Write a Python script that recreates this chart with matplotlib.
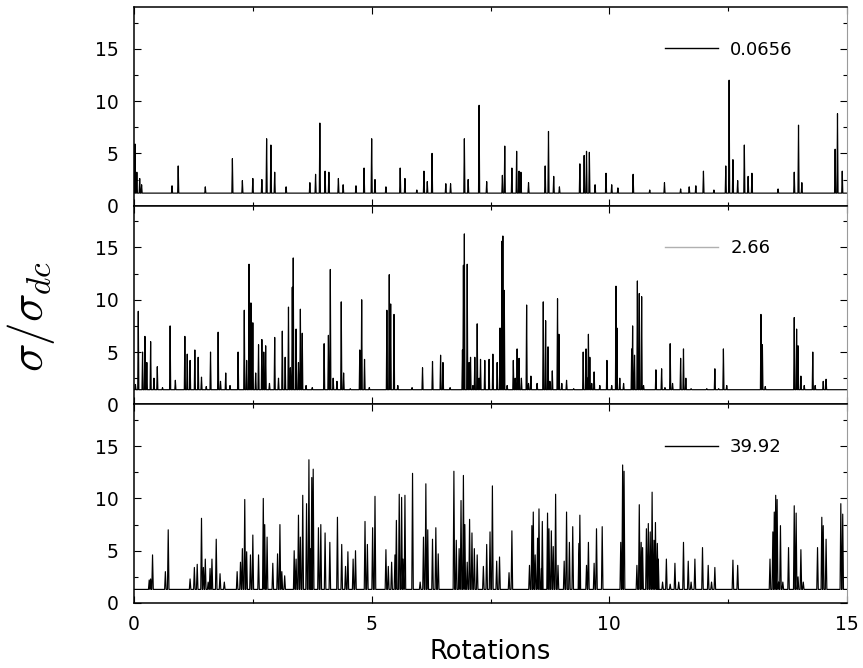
import matplotlib
matplotlib.use("Agg")
import matplotlib.pyplot as plt
from matplotlib.lines import Line2D
from matplotlib.ticker import MultipleLocator
import numpy as np

# ---------------- data ----------------
labels = ["0.0656", "2.66", "39.92"]
baselines = [1.2, 1.4, 1.3]

top_x = [0.02, 0.06, 0.12, 0.16, 0.80, 0.93, 1.50, 2.07, 2.28, 2.50,
         2.69, 2.79, 2.88, 2.96, 3.20, 3.70, 3.82, 3.91, 4.02, 4.10,
         4.30, 4.40, 4.67, 4.84, 5.00, 5.07, 5.30, 5.60, 5.70, 5.95,
         6.10, 6.17, 6.27, 6.56, 6.66, 6.95, 7.03, 7.26, 7.42, 7.75,
         7.80, 7.95, 8.05, 8.10, 8.14, 8.30, 8.65, 8.72, 8.83, 8.95,
         9.38, 9.47, 9.52, 9.58, 9.70, 9.93, 10.05, 10.18, 10.50, 10.85,
         11.16, 11.50, 11.68, 11.82, 11.98, 12.20, 12.45, 12.52, 12.60, 12.70,
         12.84, 12.92, 13.00, 13.55, 13.89, 13.98, 14.05, 14.75, 14.80, 14.90]
top_y = [5.9, 3.2, 2.6, 2.0, 1.9, 3.8, 1.8, 4.5, 2.4, 2.6,
         2.5, 6.4, 5.8, 3.2, 1.8, 2.2, 3.0, 7.9, 3.3, 3.2,
         2.6, 2.0, 1.9, 3.6, 6.4, 2.5, 1.8, 3.6, 2.6, 1.5,
         3.3, 2.3, 5.0, 2.1, 2.1, 6.4, 2.5, 9.6, 2.3, 2.9,
         5.7, 3.6, 5.2, 3.3, 3.2, 2.2, 3.8, 7.1, 2.8, 1.8,
         4.0, 4.8, 5.2, 5.1, 2.0, 3.1, 2.0, 1.7, 3.0, 1.5,
         2.2, 1.6, 1.8, 1.9, 3.3, 1.5, 3.8, 12.0, 4.4, 2.4,
         5.8, 2.8, 3.1, 1.6, 3.2, 7.7, 2.2, 5.4, 8.8, 3.3]

mid_x = [0.03, 0.09, 0.18, 0.23, 0.27, 0.35, 0.42, 0.49, 0.60, 0.76,
         0.87, 1.07, 1.12, 1.18, 1.28, 1.35, 1.42, 1.52, 1.61, 1.77,
         1.82, 1.93, 2.02, 2.19, 2.32, 2.37, 2.42, 2.46, 2.50, 2.56,
         2.62, 2.69, 2.73, 2.77, 2.85, 2.96, 3.04, 3.12, 3.18, 3.25,
         3.29, 3.33, 3.35, 3.41, 3.46, 3.50, 3.54, 3.62, 3.75, 4.00,
         4.09, 4.13, 4.19, 4.27, 4.36, 4.41, 4.55, 4.75, 4.79, 4.85,
         4.95, 5.32, 5.37, 5.40, 5.47, 5.55, 5.85, 6.07, 6.28, 6.45,
         6.50, 6.65, 6.91, 6.93, 6.95, 7.01, 7.05, 7.08, 7.13, 7.17,
         7.22, 7.26, 7.29, 7.38, 7.47, 7.55, 7.64, 7.70, 7.74, 7.76,
         7.79, 7.85, 7.98, 8.02, 8.06, 8.10, 8.15, 8.26, 8.30, 8.35,
         8.48, 8.61, 8.66, 8.71, 8.75, 8.80, 8.91, 8.94, 9.00, 9.10,
         9.25, 9.45, 9.51, 9.54, 9.56, 9.59, 9.63, 9.68, 9.80, 9.95,
         10.05, 10.14, 10.16, 10.22, 10.30, 10.47, 10.49, 10.53, 10.59, 10.63,
         10.68, 10.72, 10.98, 11.10, 11.17, 11.28, 11.33, 11.50, 11.56, 11.61,
         11.72, 12.05, 12.22, 12.30, 12.40, 12.47, 12.80, 13.19, 13.22, 13.28,
         13.60, 13.89, 13.94, 13.97, 14.03, 14.10, 14.28, 14.33, 14.50, 14.56]
mid_y = [1.9, 8.9, 5.0, 6.5, 4.0, 6.0, 2.5, 3.6, 1.6, 7.5,
         2.3, 6.5, 4.8, 4.2, 5.2, 4.5, 2.6, 1.7, 5.0, 6.9,
         2.2, 3.0, 1.8, 5.0, 9.0, 4.2, 13.4, 9.7, 7.8, 3.0,
         5.7, 6.2, 5.0, 5.6, 2.0, 6.4, 2.5, 7.0, 4.5, 9.3,
         3.5, 11.2, 14.0, 7.2, 4.0, 9.1, 6.8, 1.8, 1.6, 5.8,
         6.6, 12.9, 2.5, 2.2, 9.8, 3.0, 1.5, 5.2, 10.0, 4.3,
         1.6, 9.0, 12.4, 9.6, 8.6, 1.8, 1.6, 3.5, 4.1, 4.7,
         4.0, 1.6, 5.2, 13.3, 16.3, 13.4, 4.0, 4.5, 1.8, 4.5,
         7.7, 2.5, 4.3, 4.2, 4.3, 4.8, 4.0, 7.3, 15.6, 16.1,
         10.9, 1.8, 4.2, 2.5, 5.3, 4.4, 2.5, 9.5, 2.0, 2.7,
         2.0, 9.8, 8.0, 5.5, 2.2, 3.2, 10.1, 6.7, 2.0, 2.3,
         1.5, 5.0, 5.3, 2.5, 6.7, 4.5, 2.0, 3.1, 1.8, 4.2,
         1.8, 11.3, 7.3, 2.5, 2.0, 5.3, 7.5, 4.7, 11.8, 10.6,
         10.3, 1.8, 3.3, 3.4, 1.6, 5.8, 2.0, 4.4, 5.3, 2.5,
         1.5, 1.5, 3.4, 1.5, 5.3, 1.8, 1.4, 8.6, 5.7, 1.7,
         1.4, 8.3, 7.2, 5.6, 2.7, 1.8, 5.0, 1.8, 2.2, 2.4]

bot_x = [0.32, 0.35, 0.39, 0.66, 0.72, 1.18, 1.27, 1.33, 1.42, 1.46,
         1.50, 1.56, 1.60, 1.64, 1.73, 1.81, 1.90, 2.17, 2.24, 2.28,
         2.33, 2.37, 2.45, 2.50, 2.62, 2.72, 2.75, 2.80, 2.92, 3.02,
         3.07, 3.11, 3.17, 3.37, 3.41, 3.46, 3.50, 3.55, 3.63, 3.68,
         3.72, 3.74, 3.77, 3.88, 3.93, 4.02, 4.12, 4.28, 4.37, 4.45,
         4.50, 4.61, 4.66, 4.86, 4.91, 5.02, 5.07, 5.30, 5.35, 5.42,
         5.49, 5.52, 5.58, 5.63, 5.66, 5.70, 5.86, 6.02, 6.09, 6.14,
         6.18, 6.28, 6.35, 6.40, 6.73, 6.78, 6.84, 6.88, 6.93, 6.96,
         7.01, 7.06, 7.11, 7.16, 7.22, 7.35, 7.42, 7.49, 7.54, 7.63,
         7.69, 7.89, 7.95, 8.32, 8.37, 8.40, 8.44, 8.49, 8.52, 8.57,
         8.59, 8.70, 8.73, 8.78, 8.82, 8.87, 8.92, 9.05, 9.10, 9.16,
         9.23, 9.36, 9.38, 9.52, 9.56, 9.68, 9.73, 9.85,
         10.24, 10.28, 10.31, 10.58, 10.63, 10.67, 10.70, 10.78, 10.82, 10.86,
         10.90, 10.94, 10.97, 11.01, 11.03, 11.12, 11.20, 11.28, 11.38, 11.46,
         11.56, 11.66, 11.72, 11.80, 11.96, 12.08, 12.15, 12.22, 12.60, 12.70,
         13.38, 13.44, 13.47, 13.50, 13.53, 13.56, 13.60, 13.65, 13.77, 13.89,
         13.93, 13.97, 14.03, 14.08, 14.38, 14.47, 14.50, 14.56, 14.87, 14.91]
bot_y = [2.2, 2.3, 4.6, 3.0, 7.0, 2.3, 3.4, 3.7, 8.1, 3.4,
         4.2, 2.0, 3.3, 4.2, 6.1, 2.8, 2.0, 3.0, 3.9, 5.2,
         9.9, 4.9, 4.6, 6.5, 4.6, 10.0, 7.5, 6.3, 3.8, 4.7,
         7.5, 3.0, 2.6, 5.0, 4.2, 8.4, 6.3, 10.3, 9.5, 13.7,
         5.2, 12.0, 12.8, 7.2, 7.5, 6.7, 5.8, 8.2, 5.6, 3.5,
         4.9, 4.2, 5.0, 7.8, 5.6, 7.2, 10.2, 5.1, 3.5, 3.9,
         4.6, 7.9, 10.4, 10.1, 4.2, 10.3, 12.4, 2.0, 6.3, 11.4,
         7.0, 6.1, 7.2, 4.7, 12.6, 6.0, 5.2, 9.8, 12.2, 7.5,
         3.9, 8.0, 6.7, 5.2, 4.6, 3.5, 5.6, 6.8, 11.2, 4.0,
         4.4, 2.9, 6.9, 3.6, 7.4, 8.7, 4.6, 6.2, 9.0, 3.3,
         7.8, 8.6, 7.1, 6.9, 5.4, 10.4, 3.6, 4.0, 8.7, 5.8,
         7.3, 5.7, 8.4, 3.6, 5.8, 3.8, 7.1, 7.3,
         5.8, 13.2, 12.6, 3.6, 9.4, 5.8, 5.3, 7.1, 7.6, 6.8,
         10.6, 6.0, 7.7, 5.7, 4.2, 2.0, 4.2, 1.8, 3.8, 2.0,
         5.8, 4.0, 2.0, 4.2, 5.3, 3.6, 2.0, 3.4, 4.1, 3.6,
         4.2, 6.8, 8.7, 10.3, 9.9, 2.0, 7.4, 2.0, 5.3, 9.3,
         8.6, 2.5, 5.1, 2.0, 5.3, 8.2, 7.4, 6.1, 9.5, 8.5]

x_ticks = [0, 5, 10, 15]
y_ticks = [0, 5, 10, 15]

series = [(top_x, top_y), (mid_x, mid_y), (bot_x, bot_y)]
legend_colors = ["black", "#b0b0b0", "black"]
half_widths = [0.012, 0.012, 0.016]

# ---------------- figure ----------------
plt.rcParams["font.family"] = ["DejaVu Sans"]
plt.rcParams["mathtext.fontset"] = "cm"

fig = plt.figure(figsize=(8.63, 6.68), dpi=100)
gs = fig.add_gridspec(3, 1, left=134/863, right=847/863,
                      top=1-7/668, bottom=1-603/668, hspace=0)
axes = [fig.add_subplot(gs[i]) for i in range(3)]

for i, ax in enumerate(axes):
    px, py = series[i]
    assert len(px) == len(py)
    b = baselines[i]
    w = half_widths[i]
    xs, ys = [0.0], [b]
    for x, h in zip(px, py):
        xs += [x - w, x, x + w]
        ys += [b, h, b]
    xs.append(15.0)
    ys.append(b)
    ax.plot(xs, ys, color="black", lw=0.85)

    ax.set_xlim(0, 15)
    ax.set_ylim(0, 19)
    ax.set_yticks(y_ticks)
    ax.set_xticks(x_ticks)
    ax.xaxis.set_minor_locator(MultipleLocator(2.5))
    ax.yaxis.set_minor_locator(MultipleLocator(2.5))
    ax.tick_params(which="both", direction="in", top=True, right=True,
                   labelsize=13.5, width=0.8)
    ax.tick_params(which="major", length=5)
    ax.tick_params(which="minor", length=3)
    ax.tick_params(axis="y", pad=11)
    ax.tick_params(axis="x", pad=9)
    if i < 2:
        ax.tick_params(axis="x", labelbottom=False)
    for s in ["left", "top", "bottom"]:
        ax.spines[s].set_linewidth(1.1)
    ax.spines["right"].set_color("#9a9a9a")
    ax.spines["right"].set_linewidth(0.8)

    handle = Line2D([], [], color=legend_colors[i], lw=1.0)
    ax.legend([handle], [labels[i]], loc="center left",
              bbox_to_anchor=(0.745, 0.785), frameon=False,
              fontsize=13, handlelength=2.9, handletextpad=0.7,
              borderpad=0, borderaxespad=0)

axes[2].set_xlabel("Rotations", fontsize=18.5, labelpad=3)
fig.text(31/863, 1-317/668, r"$\sigma/\sigma_{dc}$", rotation=90,
         fontsize=34, ha="center", va="center")

fig.savefig("out.png", dpi=100)
